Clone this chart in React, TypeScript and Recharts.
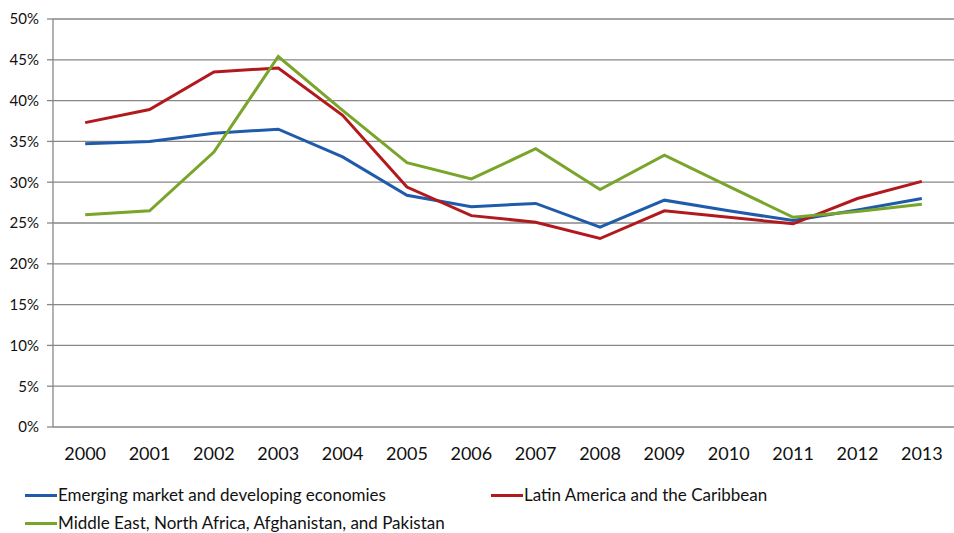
import React from "react";
import { LineChart, Line, XAxis, YAxis, CartesianGrid, Legend } from "recharts";

const years = ["2000","2001","2002","2003","2004","2005","2006","2007","2008","2009","2010","2011","2012","2013"];
const emerging = [34.7, 35.0, 36.0, 36.5, 33.1, 28.4, 27.0, 27.4, 24.5, 27.8, 26.5, 25.3, 26.6, 28.0];
const latinAmerica = [37.3, 38.9, 43.5, 44.0, 38.2, 29.4, 25.9, 25.1, 23.1, 26.5, 25.7, 24.9, 28.0, 30.1];
const middleEast = [26.0, 26.5, 33.7, 45.4, 38.8, 32.4, 30.4, 34.1, 29.1, 33.3, 29.5, 25.7, 26.4, 27.3];
const yTicks = [0, 5, 10, 15, 20, 25, 30, 35, 40, 45, 50];
const boundaryTicks = [0, 1, 2, 3, 4, 5, 6, 7, 8, 9, 10, 11, 12, 13, 14];

const seriesNames = [
  "Emerging market and developing economies",
  "Latin America and the Caribbean",
  "Middle East, North Africa, Afghanistan, and Pakistan",
];
const seriesColors = ["#1F5BAA", "#B2191D", "#78A52A"];
const seriesKeys = ["emerging", "latin", "mena"];

const data = years.map((y, i) => ({
  year: y,
  emerging: emerging[i],
  latin: latinAmerica[i],
  mena: middleEast[i],
}));

const FONT = "Lato, 'Open Sans', sans-serif";
const GRID = "#878787";

const LegendContent = () => {
  const item = (i: number, left: number, top: number) => (
    <div
      key={i}
      style={{ position: "absolute", left, top, display: "flex", alignItems: "center", whiteSpace: "nowrap", lineHeight: "20px" }}
    >
      <div style={{ width: 32, height: 3, background: seriesColors[i] }} />
      <span style={{ fontFamily: FONT, fontSize: 17, color: "#111", marginLeft: 1 }}>{seriesNames[i]}</span>
    </div>
  );
  return (
    <div style={{ position: "relative", width: 954, height: 0 }}>
      {item(0, 25, 0)}
      {item(1, 491, 0)}
      {item(2, 25, 28)}
    </div>
  );
};

export default function App() {
  return (
    <div style={{ position: "absolute", left: 0, top: 0, width: 954, height: 533, background: "#fff", overflow: "hidden" }}>
      <LineChart width={954} height={533} data={data} margin={{ top: 19, right: 0, left: 0, bottom: 66 }}>
        <CartesianGrid vertical={false} stroke={GRID} strokeWidth={1.3} xAxisId="cat" />
        <XAxis
          xAxisId="marks"
          type="number"
          domain={[0, 14]}
          ticks={boundaryTicks}
          allowDataOverflow
          height={0}
          tick={false}
          tickSize={6}
          tickLine={{ stroke: GRID, strokeWidth: 1.3 }}
          axisLine={{ stroke: GRID, strokeWidth: 1.3 }}
        />
        <XAxis
          xAxisId="cat"
          dataKey="year"
          scale="band"
          height={40}
          tickLine={false}
          axisLine={false}
          tickSize={0}
          tickMargin={20}
          interval={0}
          tick={{ fontFamily: FONT, fontSize: 18, fill: "#111" }}
        />
        <YAxis
          width={53}
          domain={[0, 50]}
          ticks={yTicks}
          interval={0}
          tickFormatter={(v: number) => `${v}%`}
          tickSize={6}
          tickMargin={8}
          tickLine={{ stroke: GRID, strokeWidth: 1.3 }}
          axisLine={{ stroke: GRID, strokeWidth: 1.3 }}
          tick={{ fontFamily: FONT, fontSize: 15, fill: "#111" }}
        />
        <Legend
          verticalAlign="bottom"
          content={<LegendContent />}
          wrapperStyle={{ position: "absolute", left: 0, top: 485, width: 954, height: 0 }}
        />
        {seriesKeys.map((k, i) => (
          <Line
            key={k}
            xAxisId="cat"
            type="linear"
            dataKey={k}
            name={seriesNames[i]}
            stroke={seriesColors[i]}
            strokeWidth={3}
            dot={false}
            activeDot={false}
            isAnimationActive={false}
          />
        ))}
      </LineChart>
    </div>
  );
}
